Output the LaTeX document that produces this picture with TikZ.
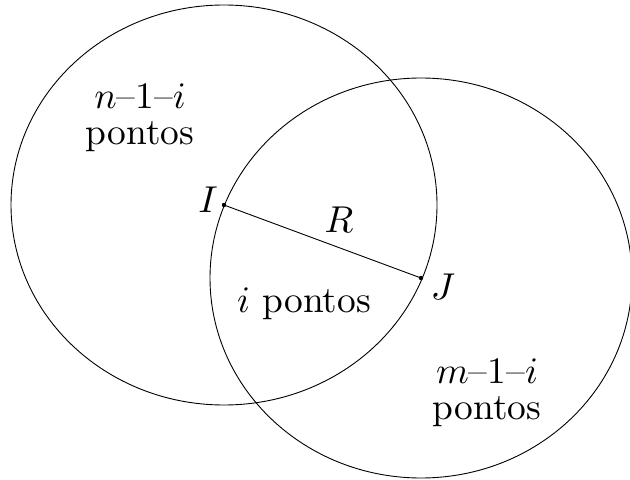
\documentclass[tikz,border=0pt]{standalone}
\begin{document}
\begin{tikzpicture}[x=0.5pt,y=-0.5pt,
  curve/.style={draw=black,line width=0.45pt},
  lbl/.style={inner sep=0pt,scale=1.87,font=\fontsize{10}{9.6}\selectfont,align=center}]
\useasboundingbox (0,0) rectangle (630,480);
\coordinate (I) at (224,205);
\coordinate (J) at (421,278);
\draw[curve] (I) ellipse [x radius=213, y radius=200];
\draw[curve] (J) ellipse [x radius=211, y radius=200];
\draw[curve] (I) -- (J);
\fill (I) circle [radius=1.1pt];
\fill (J) circle [radius=1.1pt];
\node[lbl,anchor=base] (lI) at (208,213) {$I$};
\node[lbl] (lJ) at (443,287) {$J$};
\node[lbl,anchor=base] (lR) at (339,233) {$R$};
\node[lbl] (ln) at (140,118) {$n$--1--$i$\\pontos};
\node[lbl,anchor=base] (li) at (304,312) {$i$ pontos};
\node[lbl] (lm) at (487,393) {$m$--1--$i$\\pontos};
\end{tikzpicture}
\end{document}
